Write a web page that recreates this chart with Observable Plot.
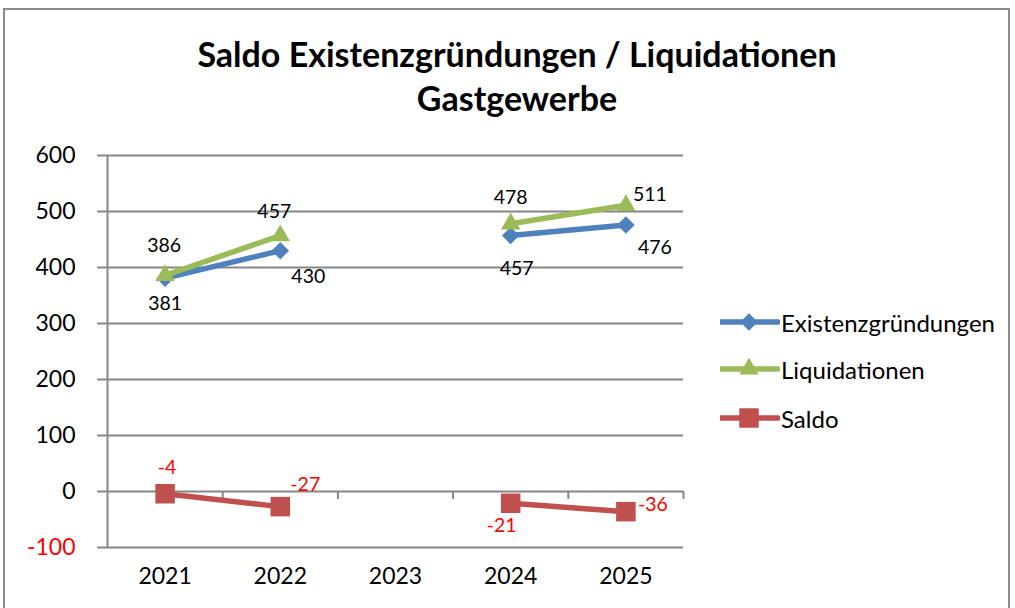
<!DOCTYPE html>
<html><head><meta charset="utf-8">
<script src="https://cdn.jsdelivr.net/npm/d3@7"></script>
<script src="https://cdn.jsdelivr.net/npm/@observablehq/plot@0.6"></script>
<style>
body{margin:0;background:#fff;font-family:Lato,"Open Sans",sans-serif;}
#wrap{position:relative;width:1015px;height:608px;overflow:hidden;background:#fff}
#frame{position:absolute;left:3px;top:8px;width:1003px;height:700px;border:2px solid #8c8c8c;}
.t{position:absolute;left:0;width:1034px;text-align:center;font-weight:bold;font-size:34px;color:#000;line-height:40px}
#chart{position:absolute;left:0;top:130px}
#legend{position:absolute;left:720px;top:0;font-size:24px;color:#000}
.li{position:absolute;left:0;height:30px;display:flex;align-items:center;white-space:nowrap}
.li svg{display:block}
</style></head>
<body>
<div id="wrap">
  <div id="frame"></div>
  <div class="t" style="top:34px">Saldo Existenzgründungen / Liquidationen</div>
  <div class="t" style="top:78px">Gastgewerbe</div>
  <div id="chart"></div>
  <div id="legend"></div>
</div>
<script>
const years = ["2021", "2022", "2023", "2024", "2025"];
const existenzgruendungen = [381, 430, null, 457, 476];
const liquidationen = [386, 457, null, 478, 511];
const saldo = [-4, -27, null, -21, -36];
const yTicks = [-100, 0, 100, 200, 300, 400, 500, 600];
const seriesNames = ["Existenzgründungen", "Liquidationen", "Saldo"];

const colors = {"Existenzgründungen": "#4F81BD", "Liquidationen": "#9BBB59", "Saldo": "#C0504D"};
const labelColors = {"Existenzgründungen": "#000", "Liquidationen": "#000", "Saldo": "#FF0000"};
// label placement (pixel offsets relative to point), per series and year index
const labelLayout = {
  "Existenzgründungen": [[0, 26], [28, 26], null, [6, 33], [29, 23]],
  "Liquidationen": [[-1, -30], [-6, -24], null, [0, -26], [24, -11]],
  "Saldo": [[2, -26], [25, -22], null, [-9, 22], [27, -7]]
};

const diamond = {draw(ctx, size) { const h = Math.sqrt(size / 2); ctx.moveTo(0, -h); ctx.lineTo(h, 0); ctx.lineTo(0, h); ctx.lineTo(-h, 0); ctx.closePath(); }};
const symbols = {"Existenzgründungen": diamond, "Liquidationen": "triangle", "Saldo": "square"};
const radii = {"Existenzgründungen": 7, "Liquidationen": 7.2, "Saldo": 11};

const valuesBySeries = {"Existenzgründungen": existenzgruendungen, "Liquidationen": liquidationen, "Saldo": saldo};
const rows = [];
seriesNames.forEach(s => valuesBySeries[s].forEach((v, i) => rows.push({series: s, i, year: years[i], value: v})));
const defined = rows.filter(d => d.value != null);

const xDomain = [-0.5, years.length - 0.5];
const boundaries = d3.range(years.length + 1).map(k => k - 0.5);
const grey = "#868686";
const fontSize = 23;
const fmt = d => String(d);

const marks = [
  Plot.gridY(yTicks, {stroke: grey, strokeOpacity: 1, strokeWidth: 2}),
  Plot.ruleX([xDomain[0]], {stroke: grey, strokeWidth: 2}),
  Plot.ruleX(boundaries.slice(1), {x: d => d, y1: 0, y2: 0, insetBottom: -8, stroke: grey, strokeWidth: 2}),
  Plot.axisY(yTicks.filter(v => v >= 0), {tickSize: 10, tickPadding: 22, tickFormat: fmt, stroke: grey, strokeWidth: 2, fill: "#000", fontSize, label: null}),
  Plot.axisY(yTicks.filter(v => v < 0), {tickSize: 10, tickPadding: 22, tickFormat: fmt, stroke: grey, strokeWidth: 2, fill: "#FF0000", fontSize, label: null}),
  Plot.axisX(d3.range(years.length), {tickFormat: i => years[i], tickSize: 0, tickPadding: 20, fill: "#000", fontSize, label: null}),
  Plot.line(rows, {x: "i", y: "value", z: "series", stroke: d => colors[d.series], strokeWidth: 5.5}),
];
seriesNames.forEach(s => {
  marks.push(Plot.dot(defined.filter(d => d.series === s), {x: "i", y: "value", symbol: () => symbols[s], r: radii[s], fill: colors[s], stroke: null}));
});
defined.forEach(d => {
  const [dx, dy] = labelLayout[d.series][d.i];
  marks.push(Plot.text([d], {x: "i", y: "value", text: d => String(d.value), dx, dy, fill: labelColors[d.series], fontSize: 19.5}));
});

const chart = Plot.plot({
  width: 1015, height: 478,
  marginLeft: 107, marginRight: 332, marginTop: 25, marginBottom: 61,
  x: {type: "linear", domain: xDomain, axis: null},
  y: {type: "linear", domain: [-100, 600], axis: null},
  symbol: {type: "identity"},
  style: {fontFamily: "Lato, 'Open Sans', sans-serif", background: "transparent", overflow: "visible"},
  marks
});
document.getElementById("chart").appendChild(chart);

// legend
const legend = document.getElementById("legend");
const legendY = [322, 369, 418];
seriesNames.forEach((s, k) => {
  const item = document.createElement("div");
  item.className = "li";
  item.style.top = (legendY[k] - 15) + "px";
  const sw = d3.create("svg").attr("width", 60).attr("height", 30);
  sw.append("line").attr("x1", 1).attr("x2", 58).attr("y1", 15).attr("y2", 15).attr("stroke", colors[s]).attr("stroke-width", 5.5).attr("stroke-linecap", "round");
  const size = Math.PI * radii[s] * radii[s];
  const sym = symbols[s] === diamond ? diamond : (s === "Liquidationen" ? d3.symbolTriangle : d3.symbolSquare);
  sw.append("path").attr("transform", "translate(29,15)").attr("d", d3.symbol(sym, size)()).attr("fill", colors[s]);
  item.appendChild(sw.node());
  const lab = document.createElement("span");
  lab.textContent = s;
  lab.style.marginLeft = "1px";
  item.appendChild(lab);
  legend.appendChild(item);
});
</script>
</body></html>
